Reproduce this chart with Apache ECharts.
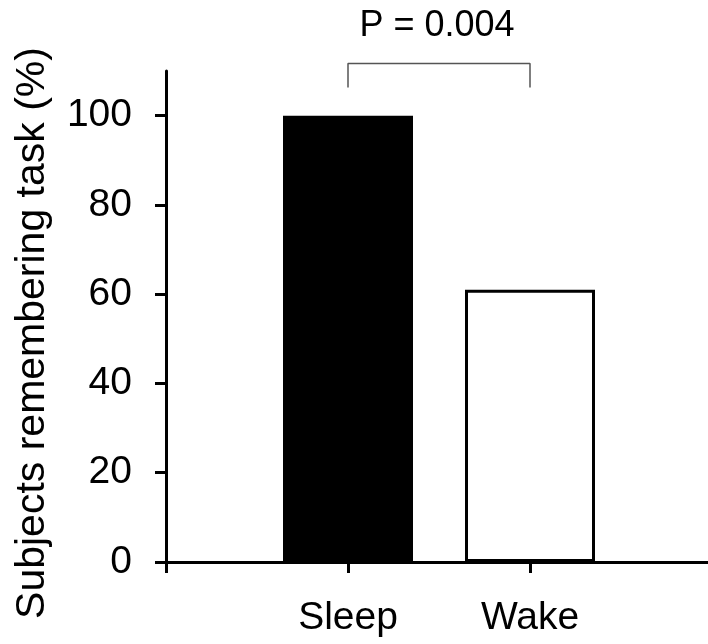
<!DOCTYPE html>
<html>
<head>
<meta charset="utf-8">
<script src="https://cdn.jsdelivr.net/npm/echarts@6/dist/echarts.min.js"></script>
<style>
html,body{margin:0;padding:0;background:#fff;}
#chart{width:708px;height:644px;}
</style>
</head>
<body>
<div id="chart"></div>
<script>
const categories = ['', 'Sleep', 'Wake', ''];
const values = [null, 100, 61, null];
const yTicks = [0, 20, 40, 60, 80, 100];
const bracketLow = 106.3;
const bracketHigh = 111.7;
const pText = 'P = 0.004';
const yTitle = 'Subjects remembering task (%)';

const FONT = 'Liberation Sans, Arial, sans-serif';
const chart = echarts.init(document.getElementById('chart'), null, {renderer: 'canvas'});

const barData = values.map((v, i) => {
  if (v === null) return '-';
  return {
    value: v,
    itemStyle: i === 1
      ? {color: '#000', borderColor: '#000', borderWidth: 0}
      : {color: '#fff', borderColor: '#000', borderWidth: 3}
  };
});

const bracketData = [
  [categories[1], bracketLow],
  [categories[1], bracketHigh],
  [categories[2], bracketHigh],
  [categories[2], bracketLow]
];

chart.setOption({
  animation: false,
  backgroundColor: '#fff',
  grid: {left: 166, width: 546, top: 71, bottom: 82, containLabel: false, outerBoundsMode: 'none'},
  xAxis: {
    type: 'category',
    data: categories,
    boundaryGap: false,
    axisLine: {lineStyle: {color: '#000', width: 3}},
    axisTick: {
      length: 11,
      lineStyle: {color: '#000', width: 3},
      interval: function (idx) { return idx < 3; }
    },
    axisLabel: {color: '#000', fontSize: 39, fontFamily: FONT, margin: 37, interval: 0},
    splitLine: {show: false}
  },
  yAxis: {
    type: 'value',
    min: 0,
    max: 110,
    interval: 10,
    axisLine: {show: true, lineStyle: {color: '#000', width: 3}},
    axisTick: {show: true, length: 11, lineStyle: {color: '#000', width: 3}, customValues: yTicks},
    axisLabel: {color: '#000', fontSize: 39, fontFamily: FONT, margin: 34, customValues: yTicks},
    splitLine: {show: false}
  },
  graphic: [
    {
      type: 'text',
      x: 33, y: 333,
      rotation: Math.PI / 2,
      style: {text: yTitle, fill: '#000', font: '41px ' + FONT, textAlign: 'center', textVerticalAlign: 'middle'}
    },
    {
      type: 'text',
      x: 437, y: 26,
      style: {text: pText, fill: '#000', font: '36px ' + FONT, textAlign: 'center', textVerticalAlign: 'middle'}
    }
  ],
  series: [
    {
      type: 'bar',
      data: barData,
      barWidth: 130,
      silent: true
    },
    {
      type: 'line',
      data: bracketData,
      clip: false,
      symbol: 'none',
      silent: true,
      lineStyle: {color: '#555', width: 1.5}
    }
  ]
});
</script>
</body>
</html>
